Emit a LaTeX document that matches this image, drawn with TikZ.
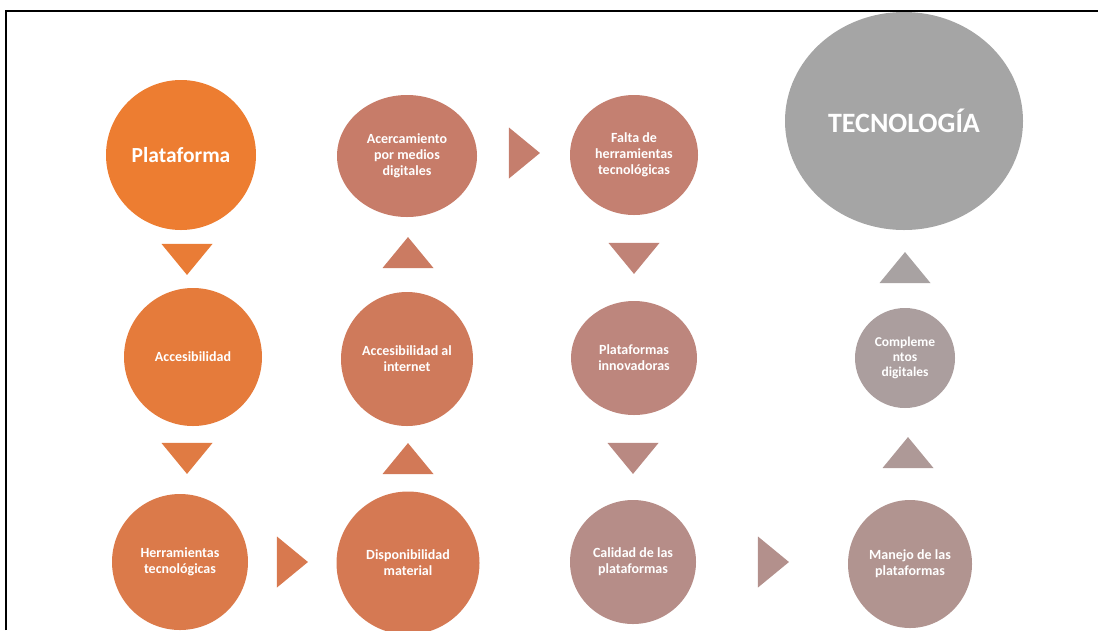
\documentclass[tikz,border=0pt]{standalone}
\usepackage{fontspec}
\setmainfont{Carlito}
\usetikzlibrary{shapes.geometric}
\definecolor{cA}{HTML}{ED7D31}
\definecolor{cB}{HTML}{E57B3B}
\definecolor{cC}{HTML}{DB7A4A}
\definecolor{cD}{HTML}{D57953}
\definecolor{cE}{HTML}{CF7A5B}
\definecolor{cF}{HTML}{C77C69}
\definecolor{cG}{HTML}{C48071}
\definecolor{cH}{HTML}{BD867D}
\definecolor{cI}{HTML}{B68D88}
\definecolor{cJ}{HTML}{B19490}
\definecolor{cK}{HTML}{AB9E9E}
\definecolor{cL}{HTML}{A5A5A5}
\tikzset{
  bubble/.style={ellipse, inner sep=0pt, text=white, align=center,
    font=\bfseries\fontsize{14}{16}\selectfont},
  arrowtri/.style={isosceles triangle, isosceles triangle stretches,
    minimum width=51pt, minimum height=31pt, inner sep=0pt},
  tdown/.style={arrowtri, rotate=-90},
  tup/.style={arrowtri, rotate=90},
  tright/.style={arrowtri}
}
\begin{document}
\begin{tikzpicture}[x=1pt,y=-1pt]
\useasboundingbox (0,0) rectangle (1107,630);
\draw[line width=2pt] (6,630) -- (6,11) -- (1098,11);
% first column
\node[bubble, fill=cA, minimum width=150pt, minimum height=150pt,
  font=\bfseries\fontsize{21.5}{26}\selectfont] (plat) at (181,155) {Plataforma};
\node[tdown, fill=cA!50!cB] (t1) at (187,256) {};
\node[bubble, fill=cB, minimum width=138pt, minimum height=138pt] (acc) at (193,357) {Accesibilidad};
\node[tdown, fill=cB!50!cC] (t2) at (187,455) {};
\node[bubble, fill=cC, minimum width=136pt, minimum height=136pt] (herr) at (180,562) {Herramientas\\tecnológicas};
\node[tright, fill=cC!50!cD] (t3) at (289,562) {};
% second column
\node[bubble, fill=cD, minimum width=143pt, minimum height=143pt] (disp) at (408,563) {Disponibilidad\\material};
\node[tup, fill=cD!50!cE] (t4) at (408,462) {};
\node[bubble, fill=cE, minimum width=132pt, minimum height=134pt] (inter) at (407,359) {Accesibilidad al\\internet};
\node[tup, fill=cE!50!cF] (t5) at (408,256) {};
\node[bubble, fill=cF, minimum width=140pt, minimum height=122pt] (acer) at (407,156) {Acercamiento\\por medios\\digitales};
\node[tright, fill=cF!50!cG] (t6) at (521,153) {};
% third column
\node[bubble, fill=cG, minimum width=128pt, minimum height=120pt] (falta) at (634,155) {Falta de\\herramientas\\tecnológicas};
\node[tdown, fill=cG!50!cH] (t7) at (634,255) {};
\node[bubble, fill=cH, minimum width=126pt, minimum height=114pt] (innov) at (634,358) {Plataformas\\innovadoras};
\node[tdown, fill=cH!50!cI] (t8) at (633,455) {};
\node[bubble, fill=cI, minimum width=126pt, minimum height=124pt] (cal) at (633,562) {Calidad de las\\plataformas};
\node[tright, fill=cI!50!cJ] (t9) at (770,562) {};
% fourth column
\node[bubble, fill=cJ, minimum width=124pt, minimum height=128pt] (man) at (910,564) {Manejo de las\\plataformas};
\node[tup, fill=cJ!50!cK] (t10) at (908,456) {};
\node[bubble, fill=cK, minimum width=100pt, minimum height=100pt,
  font=\bfseries\fontsize{13.5}{15}\selectfont] (comp) at (905,358) {Compleme\\ntos\\digitales};
\node[tup, fill=cK!50!cL] (t11) at (905,271) {};
\node[bubble, fill=cL, minimum width=238pt, minimum height=218pt,
  font=\bfseries\fontsize{28}{32}\selectfont] (tec) at (904,121) {TECNOLOGÍA};
\end{tikzpicture}
\end{document}
